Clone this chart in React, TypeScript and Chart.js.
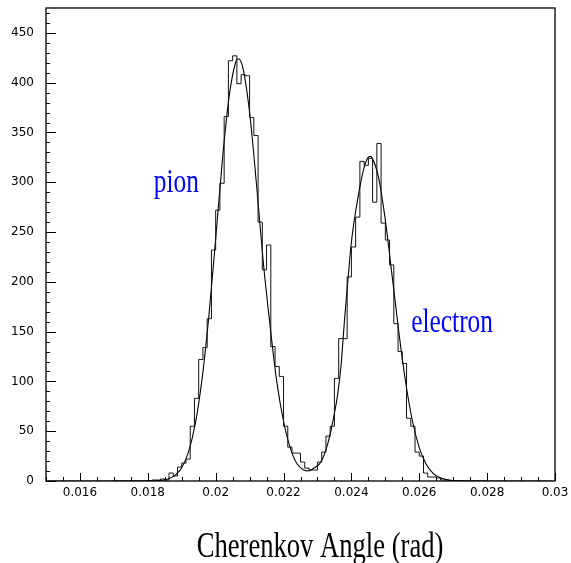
import React, { useEffect, useRef } from 'react';
import { Chart, registerables } from 'chart.js';

Chart.register(...registerables);

// ---- axis ranges ----
const X_MIN = 0.015;
const X_MAX = 0.03;
const Y_MIN = 0;
const Y_MAX = 475;

// ---- histogram: 120 bins of width 0.000125 starting at 0.015 ----
const BIN_START = 0.015;
const BIN_WIDTH = 0.000125;
const HIST_COUNTS = [
  0, 0, 0, 0, 0, 0, 0, 0, 0, 0,
  0, 0, 0, 0, 0, 0, 0, 0, 0, 0,
  0, 0, 0, 0, 0, 1, 1, 2, 1, 8,
  5, 14, 18, 22, 55, 83, 122, 134, 163, 232,
  272, 299, 366, 422, 427, 399, 408, 407, 365, 347,
  260, 212, 237, 135, 115, 105, 55, 34, 28, 28,
  19, 13, 11, 11, 19, 29, 45, 55, 103, 143,
  143, 205, 235, 265, 321, 317, 324, 280, 339, 259,
  242, 217, 158, 130, 118, 63, 55, 29, 25, 8,
  4, 4, 3, 1, 1, 0, 0, 0, 0, 0,
  0, 0, 0, 0, 0, 0, 0, 0, 0, 0,
  0, 0, 0, 0, 0, 0, 0, 0, 0, 0,
];

// ---- fitted curve ----
const FIT_X = [
  0.017, 0.0178, 0.018, 0.0182, 0.0184, 0.0186, 0.0188, 0.019, 0.0192, 0.0194,
  0.0196, 0.0198, 0.02, 0.0202, 0.0204, 0.0206, 0.02067, 0.0208, 0.021,
  0.0212, 0.0214, 0.0216, 0.0218, 0.022, 0.0222, 0.0224, 0.0226, 0.02272, 0.0229,
  0.0231, 0.0233, 0.0235, 0.0236, 0.0237, 0.0238, 0.0239, 0.024, 0.0242, 0.0244,
  0.02455, 0.0246, 0.0248, 0.025, 0.0252, 0.0254, 0.0256, 0.0258, 0.026, 0.0262,
  0.0264, 0.0266, 0.0268, 0.027, 0.0272, 0.0276, 0.028,
];
const FIT_Y = [
  0, 0, 0.1, 0.2, 0.7, 2.1, 5.6, 13.4, 29.2, 57.6,
  102.8, 166, 243, 323, 387, 421.5, 424, 415, 370,
  299, 221, 157, 100, 60, 33, 17, 11, 10, 13,
  19, 37, 68, 88, 118, 163, 203, 240, 286, 318,
  326, 325, 305, 262, 206, 149, 98.9, 60, 33.5, 17.1,
  8, 3.4, 1.35, 0.5, 0.2, 0, 0,
];

// ---- ticks ----
const X_TICKS = [0.016, 0.018, 0.02, 0.022, 0.024, 0.026, 0.028, 0.03];
const X_TICK_LABELS = ['0.016', '0.018', '0.02', '0.022', '0.024', '0.026', '0.028', '0.03'];
const X_MINOR_STEP = 0.0005;
const Y_TICKS = [0, 50, 100, 150, 200, 250, 300, 350, 400, 450];
const Y_TICK_LABELS = ['0', '50', '100', '150', '200', '250', '300', '350', '400', '450'];
const Y_MINOR_STEP = 10;

// ---- texts ----
const AXIS_TITLE = 'Cherenkov Angle (rad)';
const ANNOTATION_TEXTS = ['pion', 'electron'];
const ANNOTATION_X = [0.018174, 0.025762];
const ANNOTATION_Y = [290.6, 149.7];

const decorPlugin = {
  id: 'decor',
  afterDatasetsDraw(chart: any) {
    const { ctx, chartArea: a } = chart;
    const xs = chart.scales.x;
    const ys = chart.scales.y;
    ctx.save();
    ctx.strokeStyle = '#000';
    // frame
    ctx.lineWidth = 1.3;
    ctx.strokeRect(a.left, a.top, a.right - a.left, a.bottom - a.top);
    // x ticks (inward)
    ctx.lineWidth = 1;
    const nx = Math.round((X_MAX - X_MIN) / X_MINOR_STEP);
    for (let i = 0; i <= nx; i++) {
      const v = X_MIN + i * X_MINOR_STEP;
      const major = X_TICKS.some((t) => Math.abs(t - v) < 1e-9);
      const px = Math.round(xs.getPixelForValue(v)) + 0.5;
      const len = major ? 8 : 4;
      ctx.beginPath();
      ctx.moveTo(px, a.bottom);
      ctx.lineTo(px, a.bottom - len);
      ctx.stroke();
    }
    // y ticks (inward)
    const ny = Math.floor((Y_MAX - Y_MIN) / Y_MINOR_STEP);
    for (let i = 0; i <= ny; i++) {
      const v = Y_MIN + i * Y_MINOR_STEP;
      const major = Y_TICKS.includes(v);
      const py = Math.round(ys.getPixelForValue(v)) + 0.5;
      const len = major ? 10 : 4;
      ctx.beginPath();
      ctx.moveTo(a.left, py);
      ctx.lineTo(a.left + len, py);
      ctx.stroke();
    }
    // annotations
    ctx.fillStyle = '#0000ff';
    ctx.font = '33px "Liberation Serif", "Times New Roman", serif';
    ctx.textAlign = 'left';
    ctx.textBaseline = 'alphabetic';
    ANNOTATION_TEXTS.forEach((t, i) => {
      const px = xs.getPixelForValue(ANNOTATION_X[i]);
      const py = ys.getPixelForValue(ANNOTATION_Y[i]);
      ctx.save();
      ctx.translate(px, py);
      ctx.scale(0.77, 1);
      ctx.fillText(t, 0, 0);
      ctx.restore();
    });
    // axis title
    ctx.fillStyle = '#000';
    ctx.font = '35px "Liberation Serif", "Times New Roman", serif';
    ctx.save();
    ctx.translate(196.7, 556.7);
    ctx.scale(0.76, 1);
    ctx.fillText(AXIS_TITLE, 0, 0);
    ctx.restore();
    ctx.restore();
  },
};

export default function App() {
  const ref = useRef<HTMLCanvasElement>(null);
  useEffect(() => {
    document.body.style.margin = '0';
    const canvas = ref.current;
    if (!canvas) return;
    const histData = HIST_COUNTS.map((c, i) => ({ x: BIN_START + (i + 0.5) * BIN_WIDTH, y: c }));
    const fitData = FIT_X.map((x, i) => ({ x, y: FIT_Y[i] }));
    const chart = new Chart(canvas, {
      type: 'line',
      data: {
        datasets: [
          {
            label: 'histogram',
            data: histData,
            stepped: 'middle',
            borderColor: '#111',
            borderWidth: 1,
            pointRadius: 0,
            fill: false,
          },
          {
            label: 'fit',
            data: fitData,
            borderColor: '#000',
            borderWidth: 1.1,
            pointRadius: 0,
            cubicInterpolationMode: 'monotone',
            fill: false,
          },
        ],
      },
      options: {
        responsive: false,
        animation: false,
        devicePixelRatio: 1,
        layout: { padding: { left: 0, right: 16, top: 8, bottom: 0 } },
        plugins: { legend: { display: false }, tooltip: { enabled: false }, title: { display: false } },
        scales: {
          x: {
            type: 'linear',
            min: X_MIN,
            max: X_MAX,
            grid: { display: false, drawTicks: false },
            border: { display: false },
            afterBuildTicks: (scale: any) => {
              scale.ticks = X_TICKS.map((v) => ({ value: v }));
            },
            afterFit: (scale: any) => {
              scale.height = 82;
              scale.paddingLeft = 0;
              scale.paddingRight = 0;
            },
            ticks: {
              autoSkip: false,
              maxRotation: 0,
              padding: 5,
              color: '#000',
              font: { family: '"DejaVu Sans", sans-serif', size: 12 },
              callback: (v: any) => {
                const i = X_TICKS.findIndex((t) => Math.abs(t - Number(v)) < 1e-9);
                return i >= 0 ? X_TICK_LABELS[i] : '';
              },
            },
          },
          y: {
            type: 'linear',
            min: Y_MIN,
            max: Y_MAX,
            grid: { display: false, drawTicks: false },
            border: { display: false },
            afterBuildTicks: (scale: any) => {
              scale.ticks = Y_TICKS.map((v) => ({ value: v }));
            },
            afterFit: (scale: any) => {
              scale.width = 46;
              scale.paddingTop = 0;
              scale.paddingBottom = 0;
            },
            ticks: {
              autoSkip: false,
              padding: 12,
              color: '#000',
              font: { family: '"DejaVu Sans", sans-serif', size: 12 },
              callback: (v: any) => {
                const i = Y_TICKS.indexOf(Number(v));
                return i >= 0 ? Y_TICK_LABELS[i] : '';
              },
            },
          },
        },
      },
      plugins: [decorPlugin],
    });
    return () => chart.destroy();
  }, []);
  return (
    <div style={{ width: 571, height: 563, position: 'relative', background: '#fff' }}>
      <canvas ref={ref} width={571} height={563} />
    </div>
  );
}
